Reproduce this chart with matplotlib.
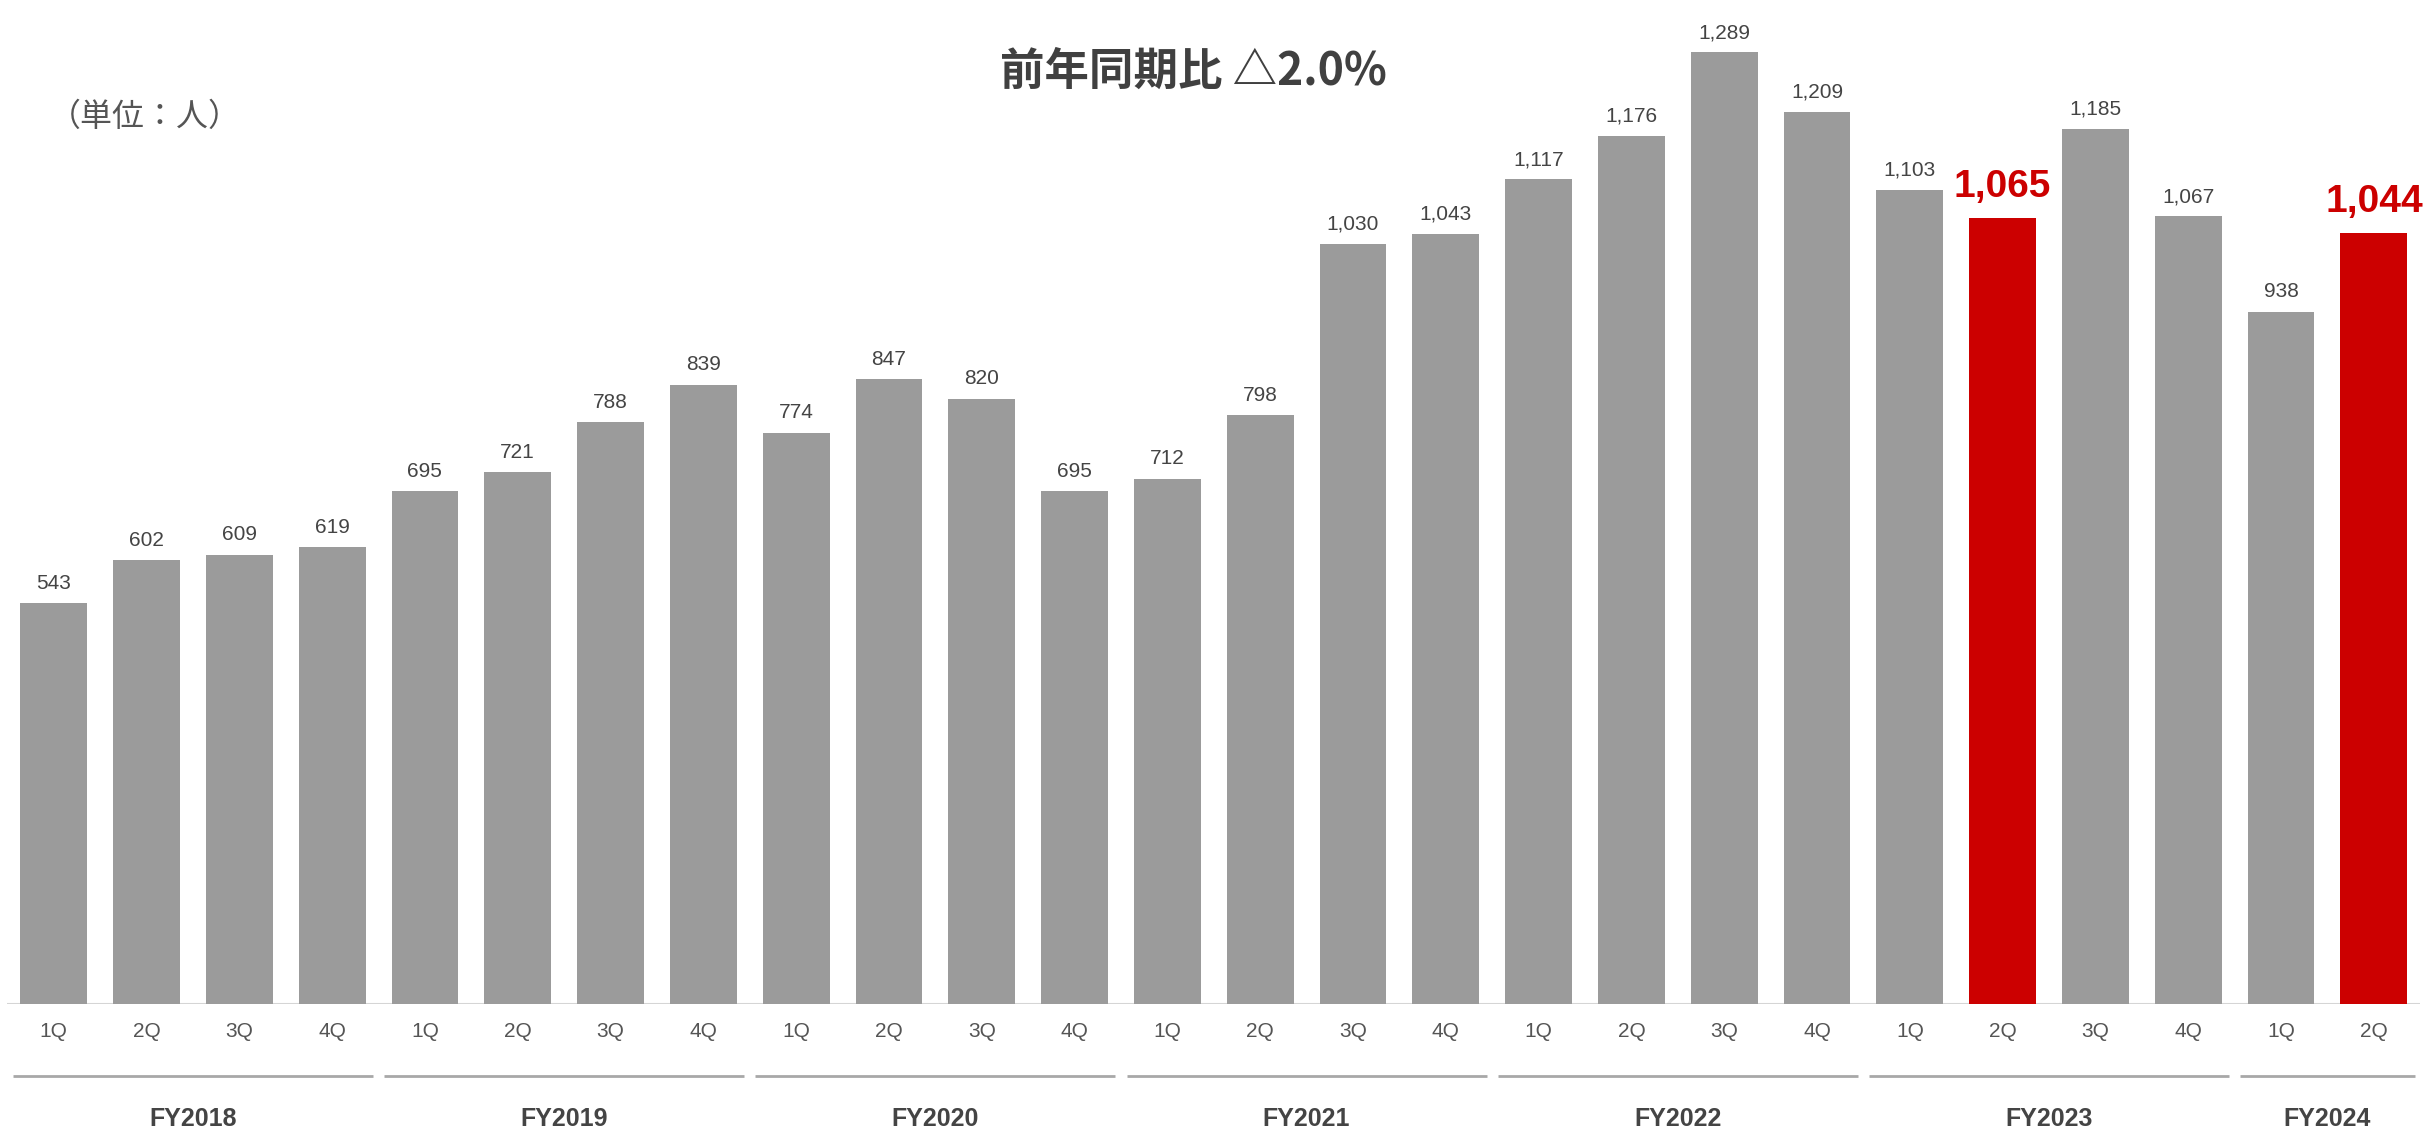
import matplotlib
matplotlib.use("Agg")
import matplotlib.pyplot as plt

plt.rcParams['font.family'] = ['Liberation Sans', 'Noto Sans CJK JP', 'DejaVu Sans']

years = ['FY2018', 'FY2019', 'FY2020', 'FY2021', 'FY2022', 'FY2023', 'FY2024']
quarters_per_year = [4, 4, 4, 4, 4, 4, 2]
quarters = ['1Q', '2Q', '3Q', '4Q'] * 6 + ['1Q', '2Q']
values = [543, 602, 609, 619,
          695, 721, 788, 839,
          774, 847, 820, 695,
          712, 798, 1030, 1043,
          1117, 1176, 1289, 1209,
          1103, 1065, 1185, 1067,
          938, 1044]
highlight = [21, 25]  # FY2023 2Q and FY2024 2Q

GRAY = '#9b9b9b'
RED = '#cc0000'

fig = plt.figure(figsize=(24.3, 11.35), dpi=100)
ax = fig.add_axes([0.003, 0.115, 0.993, 0.885])

x = list(range(len(values)))
colors = [RED if i in highlight else GRAY for i in x]
ax.bar(x, values, width=0.72, color=colors, zorder=2)

ax.set_xlim(-0.5, len(values) - 0.5)
ax.set_ylim(0, 1360)
ax.axis('off')
ax.axhline(0, color='#d5d5d5', lw=1.5, zorder=1)

# value labels
for i, v in enumerate(values):
    if i in highlight:
        ax.text(i, v + 18, f'{v:,}', ha='center', va='bottom',
                fontsize=28, fontweight='bold', color=RED)
    else:
        ax.text(i, v + 14, f'{v:,}', ha='center', va='bottom',
                fontsize=15, color='#444444')

# quarter labels under each bar
for i, q in enumerate(quarters):
    ax.text(i, -36, q, ha='center', va='center', fontsize=15, color='#555555')

# fiscal year brackets
start = 0
for yr, n in zip(years, quarters_per_year):
    end = start + n - 1
    ax.plot([start - 0.44, end + 0.44], [-97, -97], color='#a8a8a8',
            lw=2, clip_on=False, solid_capstyle='butt')
    ax.text((start + end) / 2, -155, yr, ha='center', va='center',
            fontsize=18, fontweight='bold', color='#444444')
    start += n

fig.text(0.491, 0.937, '前年同期比 △2.0%', ha='center', va='center',
         fontsize=32, fontweight='bold', color='#404040',
         family=['Noto Sans CJK JP', 'DejaVu Sans'])
fig.text(0.020, 0.897, '（単位：人）', ha='left', va='center',
         fontsize=23, color='#555555',
         family=['Noto Sans CJK JP', 'DejaVu Sans'])

fig.savefig('out.png', dpi=100)
